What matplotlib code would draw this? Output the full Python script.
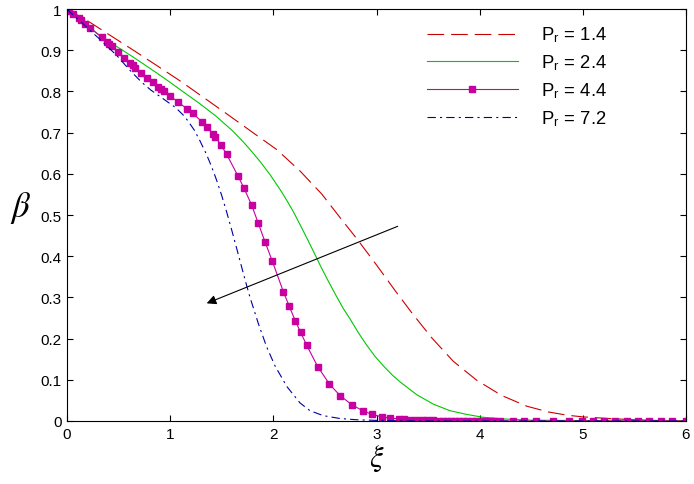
import matplotlib
matplotlib.use("Agg")
import matplotlib.pyplot as plt

plt.rcParams['font.family'] = ['Liberation Sans', 'DejaVu Sans']
plt.rcParams['lines.scale_dashes'] = False
plt.rcParams['mathtext.fontset'] = 'stix'

# Pr = 1.4 (red dashed)
x_14 = [0, 0.233, 0.394, 0.637, 0.863, 1.105, 1.331, 1.557, 1.774, 2.032, 2.258, 2.469,
        2.646, 2.823, 3.002, 3.179, 3.347, 3.535, 3.744, 3.971, 4.213, 4.456, 4.665, 4.85,
        5.0, 5.25, 5.5, 5.75, 6.0]
y_14 = [1.0, 0.966, 0.940, 0.901, 0.864, 0.824, 0.784, 0.744, 0.705, 0.659, 0.607, 0.551,
        0.494, 0.438, 0.378, 0.317, 0.261, 0.202, 0.145, 0.099, 0.062, 0.036, 0.022, 0.014,
        0.010, 0.006, 0.003, 0.001, 0.0]

# Pr = 2.4 (green solid)
x_24 = [0, 0.184, 0.313, 0.475, 0.637, 0.798, 0.96, 1.121, 1.283, 1.444, 1.606, 1.71,
        1.774, 1.871, 1.968, 2.065, 2.129, 2.194, 2.258, 2.323, 2.388, 2.452, 2.517, 2.598,
        2.678, 2.743, 2.825, 2.905, 2.985, 3.066, 3.147, 3.228, 3.389, 3.55, 3.712, 3.874,
        4.035, 4.229, 4.5, 5.0, 5.5, 6.0]
y_24 = [1.0, 0.961, 0.937, 0.910, 0.884, 0.857, 0.829, 0.800, 0.771, 0.740, 0.704, 0.677,
        0.659, 0.630, 0.598, 0.562, 0.536, 0.508, 0.477, 0.445, 0.412, 0.379, 0.347, 0.309,
        0.273, 0.248, 0.214, 0.184, 0.157, 0.134, 0.113, 0.095, 0.064, 0.041, 0.025, 0.016,
        0.009, 0.005, 0.002, 0.001, 0.0, 0.0]

# Pr = 4.4 (magenta solid with square markers)
x_44 = [0, 0.022, 0.055, 0.113, 0.136, 0.177, 0.223, 0.336, 0.385, 0.41, 0.436, 0.491,
        0.555, 0.611, 0.637, 0.662, 0.717, 0.772, 0.83, 0.885, 0.911, 0.937, 0.998, 1.079,
        1.16, 1.218, 1.309, 1.354, 1.412, 1.437, 1.49, 1.548, 1.657, 1.716, 1.79, 1.854,
        1.919, 1.99, 2.097, 2.155, 2.213, 2.265, 2.323, 2.43, 2.543, 2.649, 2.765, 2.872,
        2.959, 3.053, 3.134, 3.218, 3.266, 3.328, 3.383, 3.438, 3.492, 3.548, 3.603, 3.641,
        3.680, 3.719, 3.761, 3.803, 3.841, 3.880, 3.923, 3.964, 4.003, 4.052, 4.100, 4.142,
        4.197, 4.326, 4.430, 4.546, 4.708, 4.869, 4.989, 5.095, 5.205, 5.312, 5.425, 5.538,
        5.644, 5.755, 5.867, 6.0]
y_44 = [1.0, 0.996, 0.988, 0.978, 0.973, 0.964, 0.955, 0.931, 0.921, 0.916, 0.910, 0.895,
        0.881, 0.869, 0.863, 0.857, 0.845, 0.833, 0.823, 0.811, 0.806, 0.800, 0.789, 0.774,
        0.758, 0.747, 0.726, 0.714, 0.697, 0.690, 0.671, 0.647, 0.595, 0.565, 0.524, 0.480,
        0.435, 0.388, 0.314, 0.278, 0.243, 0.215, 0.184, 0.132, 0.090, 0.061, 0.039, 0.024,
        0.016, 0.010, 0.007, 0.005, 0.004, 0.003, 0.003, 0.002, 0.002, 0.002, 0.001, 0.001,
        0.001, 0.001, 0.001, 0.001, 0.001, 0.0, 0.0, 0.0, 0.0, 0.0, 0.0, 0.0,
        0.0, 0.0, 0.0, 0.0, 0.0, 0.0, 0.0, 0.0, 0.0, 0.0, 0.0, 0.0,
        0.0, 0.0, 0.0, 0.0]

# Pr = 7.2 (blue dash-dot)
x_72 = [0, 0.039, 0.126, 0.249, 0.313, 0.378, 0.475, 0.523, 0.588, 0.685, 0.734, 0.814,
        0.927, 1.056, 1.137, 1.17, 1.234, 1.289, 1.354, 1.402, 1.451, 1.5, 1.548, 1.596,
        1.651, 1.70, 1.74, 1.774, 1.854, 1.935, 2.016, 2.13, 2.258, 2.355, 2.484, 2.646,
        2.808, 3.07, 3.5, 4.0, 5.0, 6.0]
y_72 = [1.0, 0.990, 0.971, 0.942, 0.928, 0.912, 0.889, 0.876, 0.857, 0.832, 0.820, 0.803,
        0.783, 0.760, 0.740, 0.729, 0.706, 0.680, 0.646, 0.617, 0.584, 0.547, 0.507, 0.464,
        0.413, 0.367, 0.330, 0.300, 0.237, 0.180, 0.134, 0.084, 0.044, 0.025, 0.013, 0.006,
        0.003, 0.001, 0.0, 0.0, 0.0, 0.0]

labels = [r'P$_\mathregular{r}$ = 1.4', r'P$_\mathregular{r}$ = 2.4',
          r'P$_\mathregular{r}$ = 4.4', r'P$_\mathregular{r}$ = 7.2']
x_ticks = [0, 1, 2, 3, 4, 5, 6]
y_ticks = [0, 0.1, 0.2, 0.3, 0.4, 0.5, 0.6, 0.7, 0.8, 0.9, 1]
y_tick_labels = ['0', '0.1', '0.2', '0.3', '0.4', '0.5', '0.6', '0.7', '0.8', '0.9', '1']

fig = plt.figure(figsize=(6.94, 4.85), dpi=100)
ax = fig.add_axes([67/694, 1-422/485, (686-67)/694, (422-10)/485])

lw = 0.8
ax.plot(x_14, y_14, color='#cc0000', lw=lw, dashes=(12, 5), label=labels[0])
ax.plot(x_24, y_24, color='#00c800', lw=lw, label=labels[1])
ax.plot(x_44, y_44, color='#c800a0', lw=lw, marker='s', ms=3.8, mec='#c800a0',
        mfc='#c800a0', label=labels[2])
ax.plot(x_72, y_72, color='#0000a0', lw=lw, dashes=(6, 3, 1.5, 3), label=labels[3])

ax.annotate('', xy=(1.354, 0.2856), xytext=(3.205, 0.4725),
            arrowprops=dict(arrowstyle='-|>', color='black', lw=0.8,
                            mutation_scale=14, shrinkA=0, shrinkB=0))

ax.set_xlim(0, 6)
ax.set_ylim(0, 1)
ax.set_xticks(x_ticks)
ax.set_xticklabels([str(t) for t in x_ticks])
ax.set_yticks(y_ticks)
ax.set_yticklabels(y_tick_labels)
ax.tick_params(direction='in', top=True, right=True, length=4, width=0.8,
               labelsize=11, pad=4)
for s in ax.spines.values():
    s.set_linewidth(0.8)

ax.set_xlabel(r'$\xi$', fontsize=22, labelpad=2)
ax.set_ylabel(r'$\beta$', fontsize=25, rotation=0)
ax.yaxis.label.set_va('center')
ax.yaxis.set_label_coords(-0.075, 0.52)

leg = ax.legend(loc='upper left', bbox_to_anchor=((427-67)/619, (422-26)/412),
                frameon=False, borderpad=0, borderaxespad=0,
                fontsize=13.3, handlelength=4.9, handletextpad=1.25,
                labelspacing=0.46, numpoints=1)

fig.savefig('out.png', dpi=100)
